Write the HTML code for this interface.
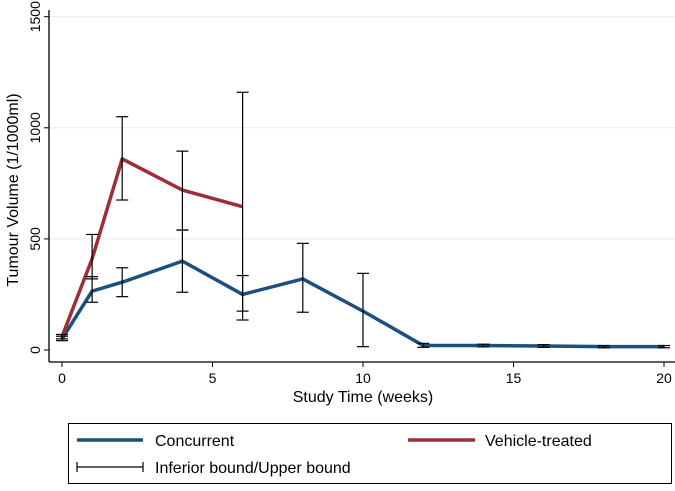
<!DOCTYPE html>
<html><head><meta charset="utf-8"><style>
body{margin:0;background:#fff;font-family:"Liberation Sans",sans-serif}
</style></head><body>
<svg id="c" width="675" height="486" xmlns="http://www.w3.org/2000/svg"></svg>
<script>
const concWeeks=[0,1,2,4,6,8,10,12,14,16,18,20];
const concVals=[50,265,305,400,250,320,175,20,20,18,15,15];
const concLo=[42,215,240,260,175,170,15,12,14,12,10,10];
const concHi=[62,330,370,540,335,480,345,30,26,24,20,20];
const vehWeeks=[0,1,2,4,6];
const vehVals=[60,410,860,720,645];
const vehLo=[50,320,675,540,135];
const vehHi=[70,520,1050,895,1160];
const xTicks=[0,5,10,15,20];
const yTicks=[0,500,1000,1500];
const NS="http://www.w3.org/2000/svg";
const svg=document.getElementById('c');
const X=w=>62+w*30.1, Y=v=>350-v*0.2222;
function el(t,a,p){const e=document.createElementNS(NS,t);for(const k in a)e.setAttribute(k,a[k]);(p||svg).appendChild(e);return e;}
yTicks.forEach(v=>{if(v>0){const g=el('line',{x1:50,x2:675,y1:Y(v),y2:Y(v),stroke:'#e4eeee','stroke-width':1});

}});
const ya=el('line',{x1:49,x2:49,y1:10,y2:362,stroke:'#000','stroke-width':1.3});


const xa=el('line',{x1:49,x2:675,y1:362,y2:362,stroke:'#000','stroke-width':1.3});


yTicks.forEach(v=>{el('line',{x1:44,x2:49,y1:Y(v),y2:Y(v),stroke:'#000'});
const t=el('text',{x:40,y:Y(v),transform:`rotate(-90 40 ${Y(v)})`,'text-anchor':'middle','font-size':14});t.textContent=v;

});
xTicks.forEach(v=>{el('line',{x1:X(v),x2:X(v),y1:362,y2:367,stroke:'#000'});
const t=el('text',{x:X(v),y:383,'text-anchor':'middle','font-size':14});t.textContent=v;

});
const xt=el('text',{x:363,y:402,'text-anchor':'middle','font-size':16});xt.textContent='Study Time (weeks)';


const yt=el('text',{x:18,y:190,transform:'rotate(-90 18 190)','text-anchor':'middle','font-size':16});yt.textContent='Tumour Volume (1/1000ml)';


function line(ws,vs,col,name){const p=el('polyline',{points:ws.map((w,i)=>X(w)+','+Y(vs[i])).join(' '),fill:'none',stroke:col,'stroke-width':3.5,'stroke-linejoin':'round'});

}
function bars(ws,lo,hi){ws.forEach((w,i)=>{const g=el('g',{stroke:'#000','stroke-width':1.2});


const x=X(w);el('line',{x1:x,x2:x,y1:Y(lo[i]),y2:Y(hi[i])},g);
el('line',{x1:x-6,x2:x+6,y1:Y(lo[i]),y2:Y(lo[i])},g);el('line',{x1:x-6,x2:x+6,y1:Y(hi[i]),y2:Y(hi[i])},g);});}
line(concWeeks,concVals,'#1a4f7f','concurrent-line');
line(vehWeeks,vehVals,'#9e2d35','vehicle-line');
bars(concWeeks,concLo,concHi);
bars(vehWeeks,vehLo,vehHi);
const lg=el('g',{});


el('rect',{x:68.5,y:423.5,width:603,height:60,fill:'#fff',stroke:'#000','stroke-width':1},lg);
el('line',{x1:77,x2:143,y1:440,y2:440,stroke:'#1a4f7f','stroke-width':3.5},lg);
let t=el('text',{x:155,y:446,'font-size':16},lg);t.textContent='Concurrent';
el('line',{x1:408,x2:475,y1:440,y2:440,stroke:'#9e2d35','stroke-width':3.5},lg);
t=el('text',{x:485,y:446,'font-size':16},lg);t.textContent='Vehicle-treated';
const eb=el('g',{stroke:'#000','stroke-width':1.2},lg);
el('line',{x1:77,x2:143,y1:467,y2:467},eb);el('line',{x1:77,x2:77,y1:462,y2:472},eb);el('line',{x1:143,x2:143,y1:462,y2:472},eb);
t=el('text',{x:155,y:473,'font-size':16},lg);t.textContent='Inferior bound/Upper bound';
</script>
</body></html>
